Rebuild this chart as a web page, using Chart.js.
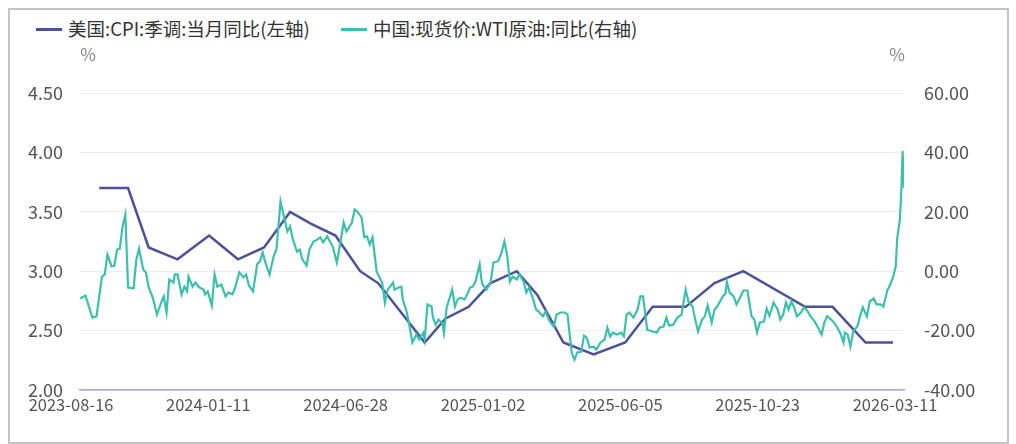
<!DOCTYPE html>
<html>
<head>
<meta charset="utf-8">
<script src="https://cdn.jsdelivr.net/npm/chart.js@4.4.1/dist/chart.umd.min.js"></script>
<style>
  body { margin: 0; background: #fff; font-family: "Noto Sans CJK SC", "Noto Sans", sans-serif; }
  #box { position: absolute; left: 8px; top: 8px; width: 1001px; height: 436px; border: 2px solid #c4c4c4; box-sizing: border-box; }
  #wrap { position: absolute; left: 0; top: 0; width: 997px; height: 432px; }
  .leg { position: absolute; top: 7px; font-size: 18.5px; color: #333; white-space: nowrap; line-height: 22px; }
  .leg i { display: inline-block; width: 26px; height: 3px; vertical-align: middle; margin-right: 6px; margin-top: -3px; }
</style>
</head>
<body>
<div id="box">
  <div class="leg" style="left:26px"><i style="background:#4b5299"></i>美国:CPI:季调:当月同比(左轴)</div>
  <div class="leg" style="left:331px"><i style="background:#3dbfad"></i>中国:现货价:WTI原油:同比(右轴)</div>
  <div id="wrap"><canvas id="chart"></canvas></div>
</div>
<script>
// x positions are trading-day index, one tick label every 100 days
const tickLabels = ['2023-08-16', '2024-01-11', '2024-06-28', '2025-01-02', '2025-06-05', '2025-10-23', '2026-03-11'];

// US CPI yoy, month-end points (Oct 2025 missing)
const cpiIdx = [14, 35, 50, 71, 94, 115, 134, 153, 168, 186, 204, 217, 234, 251, 266, 283, 299, 318, 333, 352, 374, 397, 417, 441, 462, 483, 528, 548, 572, 592];
const cpiVal = [3.7, 3.7, 3.2, 3.1, 3.3, 3.1, 3.2, 3.5, 3.4, 3.3, 3.0, 2.9, 2.65, 2.4, 2.6, 2.7, 2.9, 3.0, 2.8, 2.4, 2.3, 2.4, 2.7, 2.7, 2.9, 3.0, 2.7, 2.7, 2.4, 2.4];

// WTI spot yoy, [index, value]
const wti = [[0,-9.2],[4,-8.2],[9,-15.6],[12,-15.2],[16,-1.8],[18,-1.1],[20,5.6],[23,1.6],[25,1.9],[27,7.3],[29,7.6],[31,15.1],[33,19.1],[35,-5.5],[39,-5.8],[41,3.9],[43,7.6],[46,0.6],[48,-0.4],[50,-5.5],[53,-8.9],[56,-14.6],[60,-9.5],[61,-8.5],[63,-13.9],[65,-2.8],[68,-3.8],[69,-1.1],[71,-1.1],[74,-7.8],[76,-5.2],[78,-6.8],[79,-1.8],[82,-5.2],[84,-3.8],[87,-5.5],[90,-6.2],[91,-7.8],[93,-6.8],[96,-11.6],[98,-1.1],[100,-5.2],[103,-4.5],[106,-8.5],[108,-7.2],[111,-7.8],[113,-5.5],[116,-0.4],[119,-2.1],[121,-1.1],[123,-4.8],[126,-6.8],[129,2.3],[131,3.3],[133,6.3],[135,2.9],[138,-1.1],[141,5.0],[143,7.3],[146,23.5],[149,17.4],[151,13.4],[153,15.1],[155,10.7],[158,6.6],[160,7.3],[162,3.9],[165,1.9],[167,7.3],[170,10.0],[173,10.7],[175,11.4],[177,9.7],[180,11.7],[182,10.0],[184,8.3],[187,2.9],[189,8.0],[192,16.4],[194,13.4],[195,14.1],[198,16.4],[200,20.8],[202,20.1],[205,18.1],[207,11.4],[209,11.7],[211,9.0],[213,11.4],[216,-0.1],[220,-3.8],[222,-10.6],[224,-6.2],[228,-3.8],[229,-6.2],[232,-5.5],[234,-5.2],[235,-9.5],[238,-13.9],[240,-18.6],[242,-24.0],[245,-21.3],[247,-23.0],[250,-20.7],[251,-23.0],[253,-11.2],[256,-11.9],[257,-15.6],[259,-18.0],[261,-16.3],[264,-17.6],[265,-20.7],[267,-12.2],[271,-6.2],[273,-11.9],[275,-9.5],[277,-8.9],[280,-9.5],[282,-7.8],[284,-5.5],[286,-5.2],[288,-3.5],[291,2.3],[292,-1.8],[293,-4.5],[296,-6.2],[299,-3.8],[301,2.9],[304,3.3],[305,3.9],[307,6.3],[309,10.0],[311,5.6],[313,-3.5],[315,-1.8],[318,-2.8],[320,-1.1],[323,-3.5],[325,-7.2],[327,-5.5],[330,-9.5],[332,-12.9],[334,-13.6],[337,-15.2],[339,-13.6],[342,-16.9],[345,-18.6],[347,-14.6],[350,-13.9],[353,-13.9],[355,-14.6],[358,-27.4],[360,-29.8],[362,-27.4],[365,-27.1],[367,-21.7],[369,-22.4],[371,-25.7],[374,-25.4],[376,-26.4],[379,-24.0],[382,-23.0],[384,-19.0],[386,-22.0],[388,-20.7],[391,-21.3],[394,-20.7],[396,-22.0],[398,-14.6],[400,-13.9],[403,-15.6],[406,-12.9],[408,-8.5],[410,-8.5],[413,-19.7],[417,-20.3],[420,-20.7],[422,-19.0],[425,-18.6],[427,-15.6],[429,-18.3],[432,-18.0],[435,-15.6],[438,-14.6],[441,-6.2],[443,-10.2],[446,-11.9],[448,-16.3],[450,-20.3],[453,-16.3],[455,-15.2],[457,-11.6],[460,-17.3],[462,-12.9],[464,-11.9],[468,-8.5],[470,-7.5],[471,-3.5],[473,-7.2],[476,-8.5],[478,-11.2],[481,-8.5],[483,-6.5],[486,-6.5],[489,-15.2],[491,-16.3],[493,-20.7],[495,-17.3],[498,-17.0],[500,-12.6],[502,-15.0],[505,-10.6],[508,-12.9],[510,-16.3],[512,-14.6],[514,-10.6],[516,-12.9],[518,-10.2],[520,-12.2],[522,-15.2],[525,-13.9],[527,-12.2],[529,-12.9],[532,-15.2],[535,-17.0],[537,-18.6],[540,-21.3],[542,-17.3],[544,-15.2],[547,-16.3],[549,-17.3],[551,-18.6],[554,-21.3],[556,-24.0],[557,-20.7],[559,-21.3],[561,-25.4],[563,-20.3],[566,-18.6],[568,-15.2],[570,-12.2],[573,-15.2],[575,-10.2],[578,-9.2],[580,-11.2],[583,-11.2],[585,-11.9],[588,-6.2],[589,-5.5],[592,-2.1],[594,1.6],[595,10.7],[596,14.1],[597,17.4],[598,26.5],[599,40.5],[600,28]];

const leftTicks = [2, 2.5, 3, 3.5, 4, 4.5];
const rightTicks = [-40, -20, 0, 20, 40, 60];

const tickFont = { family: '"Noto Sans CJK SC", "Noto Sans", sans-serif', size: 18 };

// "%" above both y axes
const unitLabels = {
    id: 'unitLabels',
    afterDraw(chart) {
        const { ctx, chartArea } = chart;
        ctx.save();
        ctx.font = '17px "Noto Sans CJK SC", sans-serif';
        ctx.fillStyle = '#888';
        ctx.textAlign = 'center';
        ctx.textBaseline = 'middle';
        ctx.fillText('%', chartArea.left + 8, chartArea.top - 38);
        ctx.fillText('%', chartArea.right - 7, chartArea.top - 38);
        ctx.restore();
    },
};

const ctx = document.getElementById('chart').getContext('2d');
const myChart = new Chart(ctx, {
    type: 'line',
    data: {
        datasets: [
            {
                label: '美国:CPI:季调:当月同比(左轴)',
                data: cpiIdx.map((x, i) => ({ x: x, y: cpiVal[i] })),
                borderColor: '#4b5299',
                borderWidth: 2.5,
                pointRadius: 0,
                tension: 0,
                yAxisID: 'y',
                order: 1,
            },
            {
                label: '中国:现货价:WTI原油:同比(右轴)',
                data: wti.map(p => ({ x: p[0], y: p[1] })),
                borderColor: '#3dbfad',
                borderWidth: 2.2,
                pointRadius: 0,
                tension: 0,
                yAxisID: 'y1',
                order: 0,
            },
        ],
    },
    options: {
        responsive: true,
        maintainAspectRatio: false,
        animation: false,
        layout: { padding: { top: 83, left: 0, right: 0, bottom: 0 } },
        plugins: {
            legend: { display: false },
            tooltip: { enabled: false },
        },
        scales: {
            x: {
                type: 'linear',
                min: 0,
                max: 600,
                afterBuildTicks: (s) => { s.ticks = tickLabels.map((_, i) => ({ value: i * 100 })); },
                afterFit: (s) => { s.height = 52; },
                ticks: {
                    autoSkip: false,
                    maxRotation: 0,
                    padding: 5,
                    labelOffset: -9,
                    color: '#555',
                    font: { family: tickFont.family, size: 16.5 },
                    callback: (v) => tickLabels[Math.round(v / 100)],
                },
                grid: { color: 'rgba(0,0,0,0)', drawTicks: false },
                border: { display: true, color: '#a3a9cc', width: 1.5 },
            },
            y: {
                position: 'left',
                min: 2,
                max: 4.5,
                afterBuildTicks: (s) => { s.ticks = leftTicks.map(v => ({ value: v })); },
                afterFit: (s) => { s.width = 70; },
                ticks: {
                    padding: 17,
                    color: '#555',
                    font: tickFont,
                    callback: (v) => v.toFixed(2),
                },
                grid: { color: '#ececf4', drawTicks: false },
                border: { display: false },
            },
            y1: {
                position: 'right',
                min: -40,
                max: 60,
                afterBuildTicks: (s) => { s.ticks = rightTicks.map(v => ({ value: v })); },
                afterFit: (s) => { s.width = 103; },
                ticks: {
                    padding: 12,
                    color: '#555',
                    font: tickFont,
                    callback: (v) => v.toFixed(2),
                },
                grid: { display: false },
                border: { display: false },
            },
        },
    },
    plugins: [unitLabels],
});
</script>
</body>
</html>
